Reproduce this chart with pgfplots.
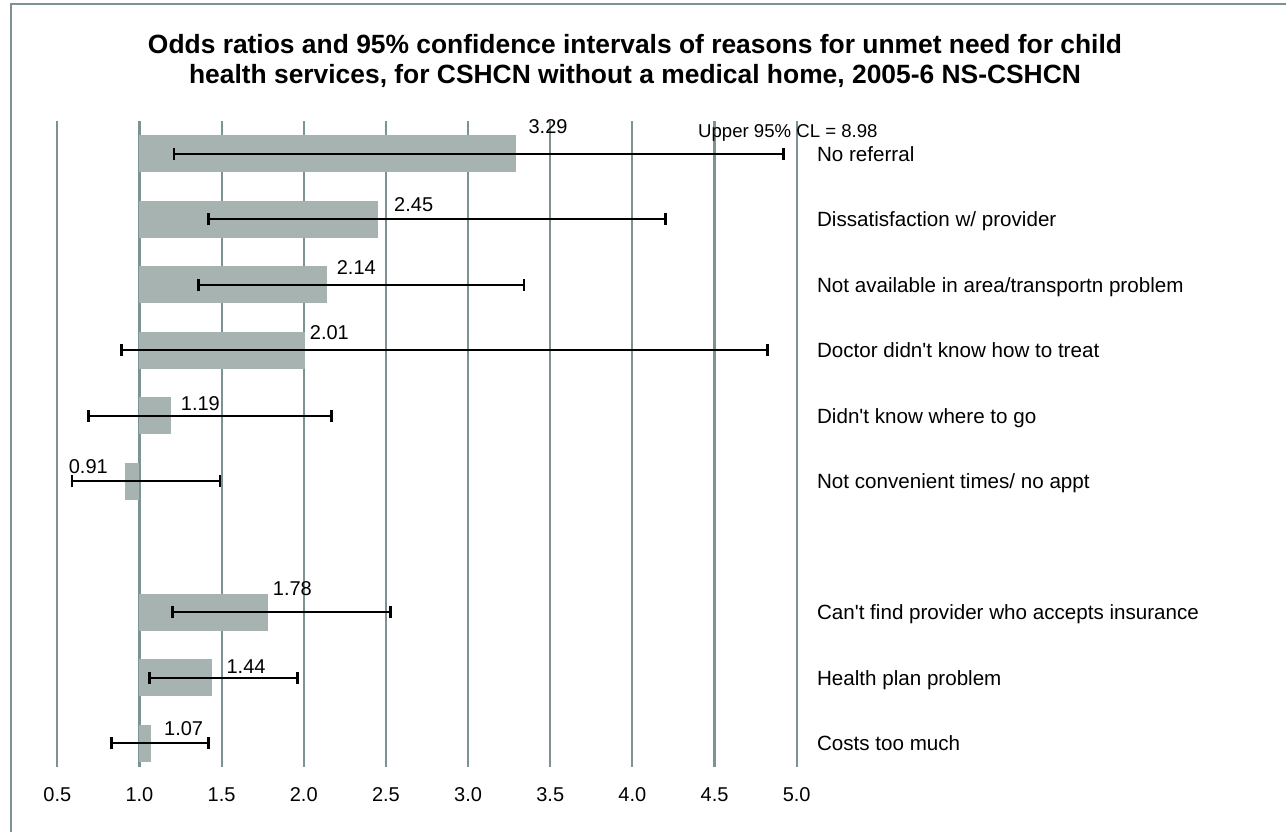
\documentclass[border=0pt]{standalone}
\usepackage{fontspec}
\setmainfont{Liberation Sans}
\usepackage{pgfplots}
\pgfplotsset{compat=1.18}
\usepackage{pgfplotstable}

\definecolor{barfill}{HTML}{A6B3B0}
\definecolor{gridcol}{HTML}{7D9292}

% pos = row on the y axis, or = odds ratio, lo/hi = 95% CL (hi cut at the axis for row 10)
% lx/ly = where the value label sits
\pgfplotstableread{
pos or   lo   hi   lx    ly
10  3.29 1.21 4.92 3.366 10.41
9   2.45 1.42 4.20 2.548 9.226
8   2.14 1.36 3.34 2.199 8.26
7   2.01 0.89 4.82 2.035 7.27
6   1.19 0.69 2.17 1.250 6.18
5   0.91 0.59 1.49 0.568 5.23
3   1.78 1.20 2.53 1.810 3.363
2   1.44 1.06 1.96 1.528 2.17
1   1.07 0.83 1.42 1.148 1.223
}\odds

\newcommand{\lblfont}{\fontsize{10}{12}\selectfont}
\newcommand{\q}{\textquotesingle}

\begin{document}
\begin{tikzpicture}
\path[use as bounding box] (0,0) rectangle (643pt,416pt);
\begin{axis}[
    at={(28.65pt,32.5pt)}, anchor=south west,
    width=369.7pt, height=323pt, scale only axis,
    xmin=0.5, xmax=5, ymin=0.638, ymax=10.5,
    axis line style={draw=none},
    major tick length=0pt,
    tick style={draw=none},
    /pgf/number format/assume math mode=true,
    xtick={0.5,1,1.5,2,2.5,3,3.5,4,4.5,5},
    xticklabels={0.5,1.0,1.5,2.0,2.5,3.0,3.5,4.0,4.5,5.0},
    xticklabel style={font=\lblfont, anchor=north, inner sep=0pt, yshift=-10pt},
    xmajorgrids,
    grid style={gridcol, line width=1.1pt},
    ytick={1,2,3,5,6,7,8,9,10},
    yticklabels={Costs too much, Health plan problem, Can\q t find provider who accepts insurance,
      Not convenient times/ no appt, Didn\q t know where to go, Doctor didn\q t know how to treat,
      Not available in area/transportn problem, Dissatisfaction w/ provider, No referral},
    yticklabel pos=right,
    yticklabel style={font=\fontsize{10.3}{12}\selectfont, anchor=west, inner sep=0pt, xshift=10pt, text depth=0pt},
    clip=false,
]
% bars, drawn from 1.0 to the odds ratio
\addplot[draw=none, mark=none,
    error bars/.cd, x dir=both, x explicit, error mark=none,
    error bar style={draw=barfill, line width=18.5pt}]
  table[x=or, y=pos,
    x error plus expr={max(0,1-\thisrow{or})},
    x error minus expr={max(0,\thisrow{or}-1)}] {\odds};
% confidence intervals
\addplot[draw=none, mark=none,
    error bars/.cd, x dir=both, x explicit, error mark=|,
    error bar style={draw=black, line width=1.1pt},
    error mark options={draw=black, line width=1.4pt, mark size=3pt}]
  table[x=or, y=pos,
    x error plus expr={\thisrow{hi}-\thisrow{or}},
    x error minus expr={\thisrow{or}-\thisrow{lo}}] {\odds};
% value labels
\addplot[draw=none, mark=none, point meta=explicit,
    nodes near coords={\pgfmathprintnumber[fixed,fixed zerofill,precision=2]{\pgfplotspointmeta}},
    every node near coord/.style={anchor=west, inner sep=0pt, font=\lblfont, text=black}]
  table[x=lx, y=ly, meta=or] {\odds};
\node[anchor=west, inner sep=0pt, font=\fontsize{9.3}{11}\selectfont] at (axis cs:4.398,10.325) {Upper 95\% CL = 8.98};
\end{axis}
\node[font=\fontsize{13.2}{16}\selectfont\bfseries] at (317.5pt,394pt)
  {Odds ratios and 95\% confidence intervals of reasons for unmet need for child};
\node[font=\fontsize{13.2}{16}\selectfont\bfseries] at (317.5pt,378pt)
  {health services, for CSHCN without a medical home, 2005-6 NS-CSHCN};
\draw[gridcol, line width=1.3pt] (5.5pt,0) -- (5.5pt,414pt) -- (643pt,414pt);
\end{tikzpicture}
\end{document}
